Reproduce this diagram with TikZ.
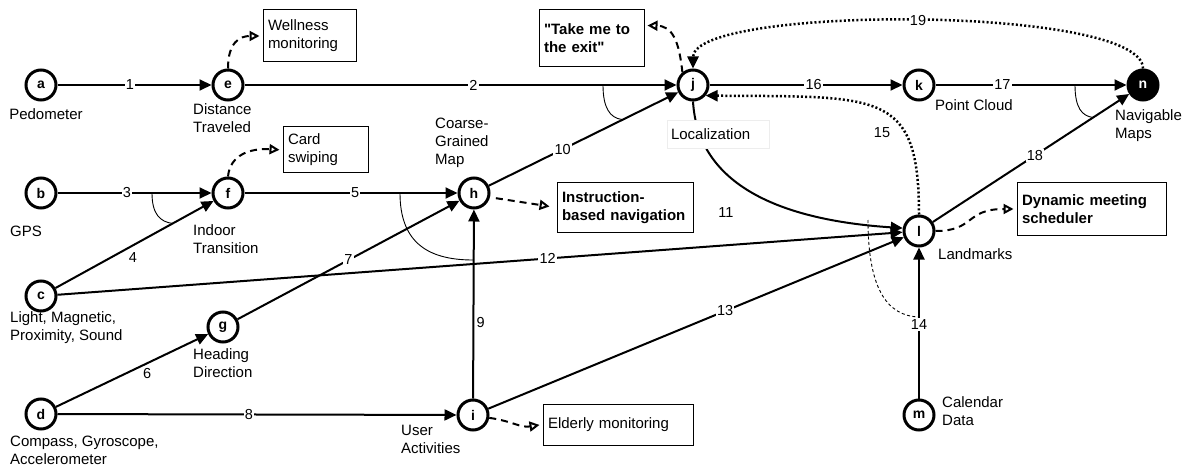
\documentclass[tikz,border=0pt]{standalone}
\usepackage{fontspec}
\setmainfont{Liberation Sans}
% same face without TeX ligatures, so that " stays a straight quote
\newfontfamily\straightqfont{Liberation Sans}
\usetikzlibrary{arrows.meta}

\begin{document}
\begin{tikzpicture}[x=1pt,y=-1pt,
  every node/.style={font=\fontsize{15}{18}\selectfont},
  vtx/.style={circle, draw, line width=3pt, minimum size=30pt, inner sep=0pt, fill=white,
    font=\fontsize{14}{16}\selectfont\bfseries},
  vtxfin/.style={vtx, fill=black, text=white},
  caplab/.style={anchor=west, align=left, inner sep=0pt},
  appbox/.style={draw, line width=1pt, align=left, inner xsep=5pt, inner ysep=2pt},
  flowedge/.style={line width=2pt, -{Triangle[length=12pt,width=11pt]}},
  feededge/.style={line width=2.5pt, dash pattern=on 2pt off 2.2pt, -{Triangle[length=12pt,width=11pt]}},
  useedge/.style={line width=2pt, dash pattern=on 7pt off 5pt, -{Triangle[open,length=10pt,width=10pt]}, shorten >=3pt},
  andarc/.style={line width=0.9pt},
  edgenum/.style={fill=white, inner sep=1.2pt, font=\fontsize{14.5}{16}\selectfont},
]
\useasboundingbox (0,0) rectangle (1187,468);

% data sources and derived quantities
\node[vtx] (a) at (41,85) {a};
\node[vtx] (e) at (228,85) {e};
\node[vtx] (j) at (693,85) {j};
\node[vtx] (k) at (919,85) {k};
\node[vtxfin] (n) at (1143,85) {n};
\node[vtx] (b) at (41,193) {b};
\node[vtx] (f) at (228,193) {f};
\node[vtx] (h) at (474,193) {h};
\node[vtx] (c) at (41,296) {c};
\node[vtx] (g) at (223,327) {g};
\node[vtx] (l) at (919,231) {l};
\node[vtx] (d) at (41,414) {d};
\node[vtx] (i) at (473,415) {i};
\node[vtx] (m) at (919,415) {m};

% node captions
\node[caplab, anchor=center] (txa) at (46,114) {Pedometer};
\node[caplab] (txe) at (193,118) {Distance\\Traveled};
\node[caplab, anchor=center] (txb) at (26,231) {GPS};
\node[caplab] (txf) at (193,239) {Indoor\\Transition};
\node[caplab] (txc) at (10,328) {Light, Magnetic,\\Proximity, Sound};
\node[caplab] (txg) at (193,363) {Heading\\Direction};
\node[caplab] (txd) at (10,450) {Compass, Gyroscope,\\Accelerometer};
\node[caplab] (txi) at (401,439) {User\\Activities};
\node[caplab] (txh) at (435,143) {Coarse-\\Grained\\Map};
\node[caplab] (txk) at (935,105) {Point Cloud};
\node[caplab] (txn) at (1115,125.5) {Navigable\\Maps};
\node[caplab] (txl) at (938,254) {Landmarks};
\node[caplab] (txm) at (942,411) {Calendar\\Data};

% applications
\node[appbox, text width=83pt, minimum height=52pt] (bxw) at (309.5,36) {Wellness\\monitoring};
\node[appbox, text width=75pt, minimum height=46pt] (bxc) at (325.5,150) {Card\\swiping};
\node[appbox, text width=95pt, minimum height=57pt, font=\fontsize{15}{18}\straightqfont\bfseries] (bxt) at (591.5,38.5) {"Take me to\\the exit"};
\node[appbox, text width=126pt, minimum height=49pt, font=\fontsize{15}{18}\selectfont\bfseries] (bxi) at (625,207.5) {Instruction-\\based navigation};
\node[appbox, text width=139pt, minimum height=52pt, font=\fontsize{15}{18}\selectfont\bfseries] (bxd) at (1091.5,209) {Dynamic meeting\\scheduler};
\node[appbox, text width=140pt, minimum height=41pt] (bxe) at (618,424.5) {Elderly monitoring};

% combination markers
\draw[andarc] (603,85) .. controls (603,108) and (610,118) .. (622,119.5);
\draw[andarc] (152,193) .. controls (152,214) and (160,222) .. (173,223.5);
\draw[andarc] (400,193) .. controls (400,240) and (425,260) .. (473,260);
\draw[andarc] (1075,85) .. controls (1075,108) and (1082,116) .. (1093,117.5);
\draw[andarc, dash pattern=on 3pt off 2.5pt] (868,220) .. controls (868,285) and (885,316) .. (919,317);

% inference edges
\draw[flowedge] (a) -- node[edgenum,pos=.47] (w1) {1} (e);
\draw[flowedge] (e) -- node[edgenum,pos=.53] (w2) {2} (j);
\draw[flowedge] (b) -- node[edgenum,pos=.45] (w3) {3} (f);
\draw[flowedge] (c) -- node[edgenum,pos=.49,below=5pt] (w4) {4} (f);
\draw[flowedge] (f) -- node[edgenum,pos=.52] (w5) {5} (h);
\draw[flowedge] (d) -- node[edgenum,pos=.6,below=3pt] (w6) {6} (g);
\draw[flowedge] (g) -- node[edgenum,pos=.5] (w7) {7} (h);
\draw[flowedge] (d) -- node[edgenum,pos=.48] (w8) {8} (i);
\draw[flowedge] (i) -- node[edgenum,pos=.4,right=1pt] (w9) {9} (h);
\draw[flowedge] (h) -- node[edgenum,pos=.39] (w10) {10} (j);
\draw[flowedge] (j.south) .. controls (698,185) and (780,220) .. (l.170);
\node[edgenum] (w11) at (726,213) {11};
\draw[flowedge] (c) -- node[edgenum,pos=.58] (w12) {12} (l);
\draw[flowedge] (i) -- node[edgenum,pos=.57] (w13) {13} (l);
\draw[flowedge] (m) -- node[edgenum,pos=.49] (w14) {14} (l);
\draw[feededge] (l.north) .. controls (919,90) and (880,97) .. (j.-40);
\node[edgenum] (w15) at (882,133) {15};
\draw[flowedge] (j) -- node[edgenum,pos=.54] (w16) {16} (k);
\draw[flowedge] (k) -- node[edgenum,pos=.35] (w17) {17} (n);
\draw[flowedge] (l) -- node[edgenum,pos=.52] (w18) {18} (n);
\draw[feededge] (n.north) .. controls (1143,5) and (693,5) .. node[edgenum,pos=.5] (w19) {19} (j.north);

% links to applications
\draw[useedge] (e.north) .. controls (228,42) and (240,36) .. (bxw.west);
\draw[useedge] (f.north) .. controls (230,155) and (250,148) .. (bxc.west);
\draw[useedge] (j.130) .. controls (679,40) and (672,26) .. ([yshift=13pt]bxt.east);
\draw[useedge, shorten <=6pt, shorten >=7pt] (h.-15) -- (bxi.west);
\draw[useedge] (i.-10) .. controls (512,421) and (520,428) .. (bxe.west);
\draw[useedge] (l.east) .. controls (975,231) and (965,209) .. (bxd.west);

% caption of j, drawn over the curve leaving j
\node[draw=black!7, fill=white, inner sep=4pt, text width=94pt, minimum height=28pt, align=left] (txj) at (718,134) {Localization};
\end{tikzpicture}
\end{document}
